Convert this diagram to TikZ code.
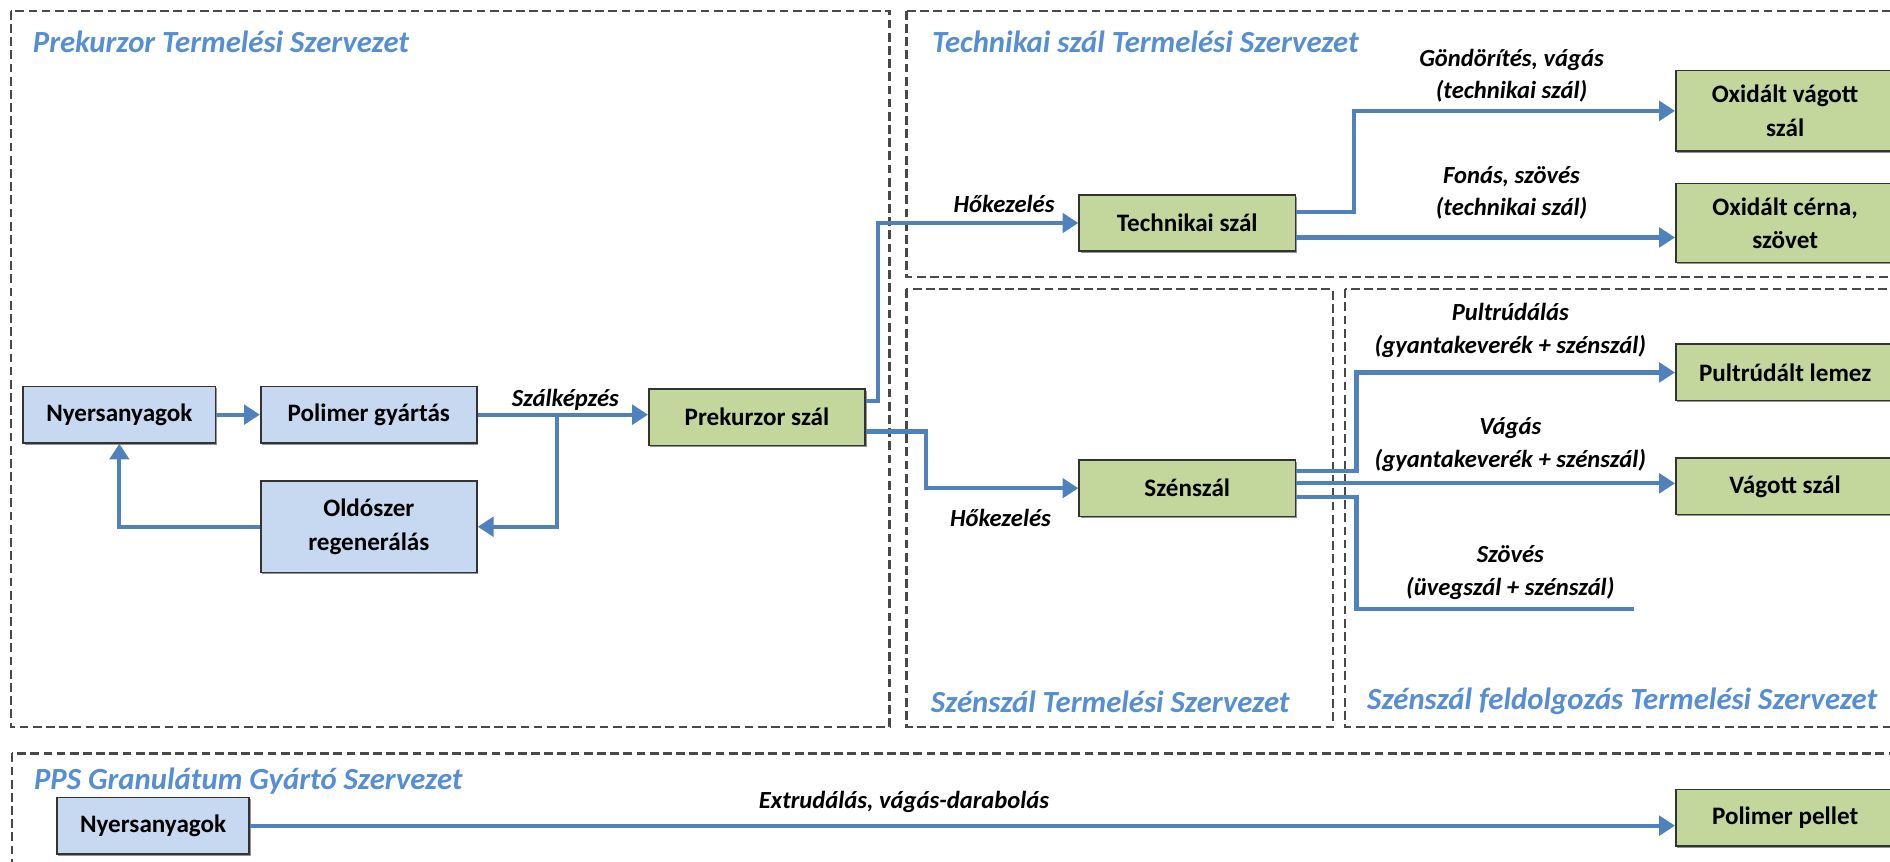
\documentclass[tikz,border=0pt]{standalone}
\usepackage{fontspec}
\setmainfont{Carlito}
\usetikzlibrary{arrows.meta,positioning,calc,shadows}
\newlength{\pxu}
\setlength{\pxu}{0.6837pt}
\definecolor{boxblue}{RGB}{198,217,241}
\definecolor{boxgreen}{RGB}{195,214,155}
\definecolor{flowblue}{RGB}{79,129,189}
\definecolor{titleblue}{RGB}{85,142,213}
\definecolor{framegray}{RGB}{72,72,72}
\tikzset{proc box/.style={draw=black!80,line width=0.9pt,fill=#1,
    minimum width=180\pxu,minimum height=47\pxu,align=center,inner sep=2pt,
    font=\bfseries\fontsize{14.3}{19}\selectfont,
    drop shadow={shadow xshift=0.8pt,shadow yshift=-1pt,opacity=0.6,fill=black!70}}}
\tikzset{org frame/.style={draw=framegray,line width=1.3pt,dash pattern=on 5pt off 2.5pt},
  org title/.style={anchor=west,inner sep=0pt,text=titleblue,
    font=\bfseries\itshape\fontsize{17.5}{20}\selectfont},
  op label/.style={align=center,inner sep=0pt,
    font=\bfseries\itshape\fontsize{14}{18.5}\selectfont},
  flow/.style={draw=flowblue,line width=2.4pt},
  flow arrow/.style={flow,-{Triangle[length=9pt,width=11pt]}}}

\begin{document}
\begin{tikzpicture}[x=0.02411cm,y=-0.02411cm]
    \useasboundingbox (0,0) rectangle (1568,715);
    \clip (0,0) rectangle (1568,715);
    %
    % organisation frames
    \draw[org frame] (9,9) rectangle (738,603);
    \draw[org frame] (752,9) rectangle (1590,230);
    \draw[org frame] (752,240) rectangle (1106,603);
    \draw[org frame] (1116,240) rectangle (1590,603);
    \draw[org frame] (10,625) rectangle (1590,740);
    \node[org title] (tPrek) at (27,35) {Prekurzor Termelési Szervezet};
    \node[org title] (tTech) at (773,35) {Technikai szál Termelési Szervezet};
    \node[org title] (tSzen) at (772,582) {Szénszál Termelési Szervezet};
    \node[org title] (tFeld) at (1134,582) {Szénszál feldolgozás Termelési Szervezet};
    \node[org title] (tPPS) at (28,648) {PPS Granulátum Gyártó Szervezet};
    %
    % process steps
    \node[proc box=boxblue,minimum width=160\pxu] (nyers) at (99,344) {Nyersanyagok};
    \node[proc box=boxblue] (polim) at (306,344) {Polimer gyártás};
    \node[proc box=boxblue,minimum height=76\pxu] (oldo) at (306,437) {Oldószer\\regenerálás};
    \node[proc box=boxgreen] (prek) at (628,346) {Prekurzor szál};
    \node[proc box=boxgreen] (tech) at (985,185) {Technikai szál};
    \node[proc box=boxgreen] (szen) at (985,405) {Szénszál};
    \node[proc box=boxgreen,minimum width=182\pxu,minimum height=67\pxu] (oxvag) at (1481,92) {Oxidált vágott\\szál};
    \node[proc box=boxgreen,minimum width=182\pxu,minimum height=66\pxu] (oxcer) at (1481,185) {Oxidált cérna,\\szövet};
    \node[proc box=boxgreen,minimum width=182\pxu] (pult) at (1481,309) {Pultrúdált lemez};
    \node[proc box=boxgreen,minimum width=182\pxu] (vagott) at (1481,403.5) {Vágott szál};
    \node[proc box=boxblue,minimum width=160\pxu] (nyers2) at (127,685) {Nyersanyagok};
    \node[proc box=boxgreen,minimum width=182\pxu] (pellet) at (1481,678.5) {Polimer pellet};
    %
    % flows
    \coordinate (split) at (462,344);
    \coordinate (prekUp) at ($(prek.east)+(0,-13)$);
    \coordinate (prekLow) at ($(prek.east)+(0,12)$);
    \coordinate (techUp) at ($(tech.east)+(0,-9)$);
    \coordinate (techLow) at ($(tech.east)+(0,12)$);
    \coordinate (szenUp) at ($(szen.east)+(0,-14)$);
    \coordinate (szenMid) at ($(szen.east)+(0,-4)$);
    \coordinate (szenLow) at ($(szen.east)+(0,7)$);
    \coordinate (szovEnd) at (1356,505);
    \draw[flow arrow] (nyers) -- (polim);
    \draw[flow arrow] (polim.east) -- (polim.east -| prek.west);
    \draw[flow arrow] (split) |- (oldo.east);
    \draw[flow arrow] (oldo.west) -| (nyers.south);
    \draw[flow arrow] (prekUp) -- ++(10,0) |- (tech.west);
    \draw[flow arrow] (prekLow) -- ++(50,0) |- (szen.west);
    \draw[flow arrow] (techUp) -- ++(48,0) |- (oxvag.west);
    \draw[flow arrow] (techLow) -- (techLow -| oxcer.west);
    \draw[flow arrow] (szenUp) -- ++(50,0) |- (pult.west);
    \draw[flow arrow] (szenMid) -- (szenMid -| vagott.west);
    \draw[flow] (szenLow) -- ++(50,0) |- (szovEnd);
    \draw[flow arrow] (nyers2.east) -- (nyers2.east -| pellet.west);
    %
    % labels
    \node[op label] (lSzalk) at (469,332) {Szálképzés};
    \node[op label] (lHoTech) at (833,169) {Hőkezelés};
    \node[op label] (lHoSzen) at (830,430) {Hőkezelés};
    \node[op label] (lGond) at (1254,63) {Göndörítés, vágás\\(technikai szál)};
    \node[op label] (lFonas) at (1254,160) {Fonás, szövés\\(technikai szál)};
    \node[op label] (lPult) at (1253,274) {Pultrúdálás\\(gyantakeverék + szénszál)};
    \node[op label] (lVagas) at (1253,369) {Vágás\\(gyantakeverék + szénszál)};
    \node[op label] (lSzoves) at (1253,475) {Szövés\\(üvegszál + szénszál)};
    \node[op label] (lExtr) at (750,665) {Extrudálás, vágás-darabolás};
\end{tikzpicture}
\end{document}
